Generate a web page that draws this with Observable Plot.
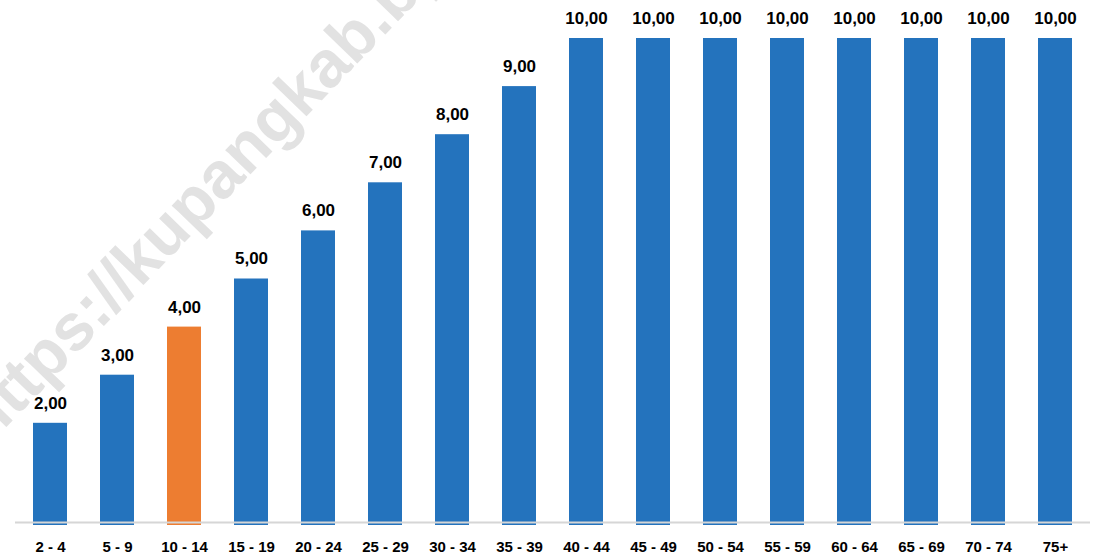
<!DOCTYPE html>
<html>
<head>
<meta charset="utf-8">
<script src="https://cdn.jsdelivr.net/npm/d3@7"></script>
<script src="https://cdn.jsdelivr.net/npm/@observablehq/plot@0.6"></script>
<style>
  html, body { margin: 0; padding: 0; background: #fff; }
  #chart { width: 1095px; height: 558px; }
</style>
</head>
<body>
<div id="chart"></div>
<script>
const ageGroups = ["2 - 4","5 - 9","10 - 14","15 - 19","20 - 24","25 - 29","30 - 34","35 - 39","40 - 44","45 - 49","50 - 54","55 - 59","60 - 64","65 - 69","70 - 74","75+"];
const values = [2,3,4,5,6,7,8,9,10,10,10,10,10,10,10,10];
const highlight = "10 - 14";
const watermark = ["https://kupangkab.bps.go.id"];

const data = ageGroups.map((g, i) => ({group: g, value: values[i], hl: g === highlight}));
const fmt = v => v.toFixed(2).replace(".", ",");

const chart = Plot.plot({
  width: 1095,
  height: 558,
  marginTop: 38,
  marginBottom: 39,
  marginLeft: 15,
  marginRight: 5,
  style: {background: "white", fontFamily: "Liberation Sans, Arial, sans-serif"},
  x: {domain: ageGroups, paddingInner: 0.5, paddingOuter: 0.25, axis: null},
  y: {domain: [0, 10], axis: null},
  marks: [
    Plot.text(watermark, {
      frameAnchor: "top-left", dx: -28, dy: 408, rotate: -46,
      text: d => d, textAnchor: "start", lineAnchor: "bottom",
      fontSize: 66, fontWeight: "bold", fill: "#e2e2e2"
    }),
    Plot.barY(data, {
      x: "group", y: "value", insetBottom: -6,
      fill: d => d.hl ? "#ED7D31" : "#2473BD"
    }),
    Plot.ruleY([0], {stroke: "#d6d6d6", strokeWidth: 2, dy: 3}),
    Plot.text(data, {
      x: "group", y: "value", text: d => fmt(d.value), dy: -20,
      fontSize: 17, fontWeight: "bold", fill: "#000",
      style: "letter-spacing:1.2px"
    }),
    Plot.axisX({
      tickSize: 0, tickPadding: 22, fontSize: 15, fontWeight: "bold",
      color: "#000", label: null, style: "letter-spacing:1px"
    })
  ]
});
document.getElementById("chart").appendChild(chart);
</script>
</body>
</html>
